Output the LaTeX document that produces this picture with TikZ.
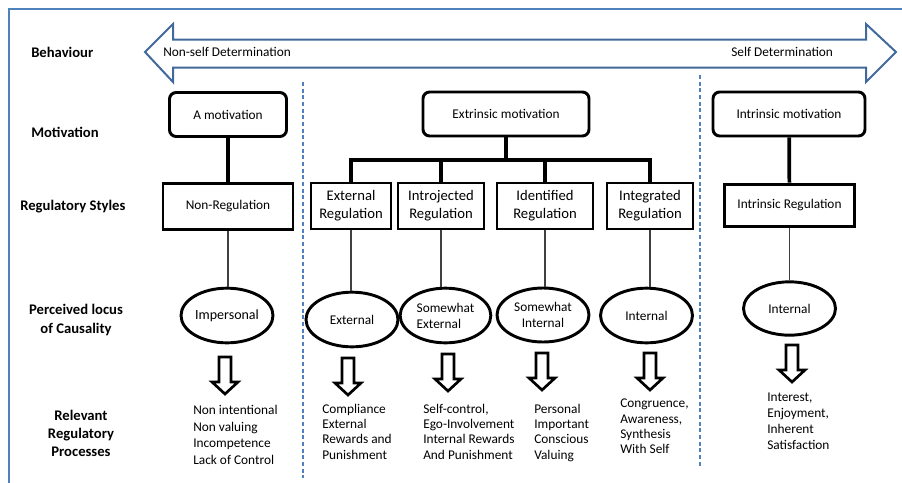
\documentclass[tikz,border=0pt]{standalone}
\usepackage{fontspec}
\setmainfont{Carlito}
\usetikzlibrary{shapes.geometric}
\definecolor{frameblue}{RGB}{79,129,189}
\definecolor{arrowblue}{RGB}{65,105,155}
\newcommand{\hollowdown}[2]{%
  \draw[hollow] (#1-6,#2) -- (#1+6,#2) -- (#1+6,#2+25) -- (#1+13,#2+25)
    -- (#1,#2+37) -- (#1-13,#2+25) -- (#1-6,#2+25) -- cycle;}

\begin{document}
\begin{tikzpicture}
  [x=0.75pt,y=-0.75pt,
   every node/.style={font=\fontsize{10}{12}\selectfont,inner sep=0pt},
   rowlabel/.style={font=\fontsize{11}{13.5}\selectfont\bfseries,align=center},
   motbox/.style={draw,line width=2.2pt,rounded corners=5pt,minimum height=33pt},
   regbox/.style={draw,line width=2.2pt,minimum height=34.5pt,align=center,font=\fontsize{11}{13.5}\selectfont},
   locus/.style={draw,ellipse,line width=2.2pt,minimum width=69pt,minimum height=41pt,align=center},
   tree/.style={line width=2.8pt},
   thin/.style={black!75,line width=0.8pt},
   divider/.style={frameblue,dash pattern=on 3pt off 2pt,line width=0.8pt},
   hollow/.style={draw,line width=2pt,fill=white,line join=miter},
   procs/.style={anchor=north west,align=left}]
  \useasboundingbox (0,0) rectangle (902,482);

  % frame
  \draw[frameblue,line width=1.5pt] (9,490) -- (9,9) -- (910,9);

  % behaviour arrow
  \draw[arrowblue,line width=1.5pt,fill=white,line join=miter]
    (145,52) -- (173,24) -- (173,39.5) -- (866,39.5) -- (866,24) -- (896,52)
    -- (866,82) -- (866,67.5) -- (173,67.5) -- (173,82) -- cycle;
  \node[anchor=west] (nonself) at (163,52) {Non-self Determination};
  \node[anchor=west] (self) at (731,52) {Self Determination};

  % row labels
  \node[rowlabel,anchor=west] (behav) at (31,52) {Behaviour};
  \node[rowlabel,anchor=west] (motiv) at (31,132) {Motivation};
  \node[rowlabel,anchor=west] (regst) at (20,207) {Regulatory Styles};
  \node[rowlabel] (locus) at (76,320) {Perceived locus\\of Causality};
  \node[rowlabel] (relev) at (81,433) {Relevant\\Regulatory\\Processes};

  % dividers
  \coordinate (d1top) at (303,82);
  \coordinate (d1bot) at (303,478);
  \coordinate (d2top) at (700,75);
  \coordinate (d2bot) at (700,468);
  \draw[divider] (d1top) -- (d1bot);
  \draw[divider] (d2top) -- (d2bot);

  % motivation
  \node[motbox,minimum width=87.75pt] (amot) at (228,114.5) {A motivation};
  \node[motbox,minimum width=124.5pt] (extmot) at (506,114) {Extrinsic motivation};
  \node[motbox,minimum width=114pt] (intmot) at (789,114) {Intrinsic motivation};

  % regulatory styles
  \node[regbox,minimum width=97.5pt,font=\fontsize{10}{12}\selectfont] (nonreg) at (228,206.5) {Non-Regulation};
  \node[regbox,minimum width=60pt] (extreg) at (351,206) {External\\Regulation};
  \node[regbox,minimum width=64.5pt] (introj) at (441,206) {Introjected\\Regulation};
  \node[regbox,minimum width=72pt] (ident) at (545,206) {Identified\\Regulation};
  \node[regbox,minimum width=64.5pt] (integ) at (650,206) {Integrated\\Regulation};
  \node[regbox,minimum width=98pt,minimum height=32pt,font=\fontsize{10}{12}\selectfont] (intreg) at (789.5,205.5) {Intrinsic Regulation};

  % perceived locus of causality
  \node[locus,font=\fontsize{10.5}{12}\selectfont] (impers) at (227,315.5) {Impersonal};
  \node[locus] (extloc) at (352,319.5) {External};
  \node[locus,minimum width=68pt,align=left] (somext) at (445.5,315.5) {Somewhat\\External};
  \node[locus,minimum height=40.5pt] (somint) at (543,315) {Somewhat\\Internal};
  \node[locus] (intloc) at (646.5,315.5) {Internal};
  \node[locus,minimum height=40pt] (inhloc) at (789.5,308.5) {Internal};

  % tree
  \coordinate (bar) at (506,160);
  \draw[tree] (amot) -- (nonreg);
  \draw[tree] (extmot) -- (bar);
  \draw[tree] (extreg.north) |- (bar) -| (integ.north);
  \draw[tree] (introj.north) -- (introj.north |- bar);
  \draw[tree] (ident.north) -- (ident.north |- bar);
  \draw[tree] (intmot) -- (intreg);

  \draw[thin] (nonreg.south) -- (nonreg.south |- impers.north);
  \draw[thin] (extreg.south) -- (extreg.south |- extloc.north);
  \draw[thin] (introj.south) -- (introj.south |- somext.north);
  \draw[thin] (ident.south) -- (ident.south |- somint.north);
  \draw[thin] (integ.south) -- (integ.south |- intloc.north);
  \draw[thin] (intreg.south) -- (intreg.south |- inhloc.north);

  % hollow arrows
  \hollowdown{225}{357}
  \hollowdown{348}{358}
  \hollowdown{448}{354}
  \hollowdown{542}{353}
  \hollowdown{650}{353}
  \hollowdown{792}{345}

  % relevant regulatory processes
  \node[procs,font=\fontsize{10}{12.5}\selectfont] (pr1) at (193,405) {Non intentional\\Non valuing\\Incompetence\\Lack of Control};
  \node[procs,font=\fontsize{10}{11.4}\selectfont] (pr2) at (322,404) {Compliance\\External\\Rewards and\\Punishment};
  \node[procs,font=\fontsize{10}{11.4}\selectfont] (pr3) at (423,404) {Self-control,\\Ego-Involvement\\Internal Rewards\\And Punishment};
  \node[procs,font=\fontsize{10}{11.4}\selectfont] (pr4) at (534,404) {Personal\\Important\\Conscious\\Valuing};
  \node[procs,font=\fontsize{10}{11.4}\selectfont] (pr5) at (620,399) {Congruence,\\Awareness,\\Synthesis\\With Self};
  \node[procs,font=\fontsize{10}{12}\selectfont] (pr6) at (767,393) {Interest,\\Enjoyment,\\Inherent\\Satisfaction};
\end{tikzpicture}
\end{document}
